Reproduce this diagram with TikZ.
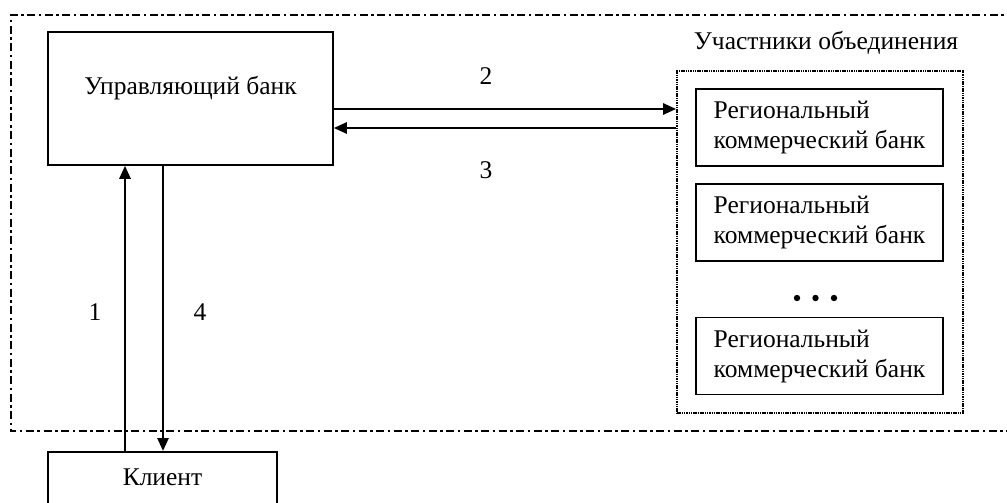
\documentclass[tikz,border=0pt]{standalone}
\usepackage{fontspec}
\setmainfont{Liberation Serif}
\usetikzlibrary{arrows.meta}
\tikzset{
  box/.style={draw, line width=1.6pt, inner sep=0pt},
  bank/.style={box, minimum width=247pt, minimum height=77pt, align=left,
    font=\fontsize{25.5}{30}\selectfont},
  txt/.style={inner sep=0pt, font=\fontsize{25.5}{30}\selectfont},
  arr/.style={line width=2.6pt, -{Triangle[length=13pt, width=11pt]}},
  frame/.style={line width=2.8pt, dash pattern=on 8pt off 3.5pt on 2.5pt off 3.5pt},
  group/.style={draw, line width=1.7pt, dash pattern=on 1.5pt off 0.8pt, inner sep=0pt}
}
\begin{document}
\begin{tikzpicture}[x=1pt, y=-1pt]
  \clip (0,0) rectangle (1007,503);
  \fill[white] (0,0) rectangle (1007,503);

  % outer boundary of the association
  \draw[frame] (1015,15) -- (11,15) -- (11,431) -- (1015,431);

  % managing bank
  \node[box, minimum width=285pt, minimum height=133pt] (mgr) at (190.5,98.5) {};
  \node[txt] (mgrtext) at (190.5,88) {Управляющий банк};

  % members of the association
  \node[txt] (memtitle) at (826,43) {Участники объединения};
  \node[group, minimum width=286pt, minimum height=342pt] (members) at (820,242) {};
  \node[bank] (bank1) at (819.5,127.5) {Региональный\\коммерческий банк};
  \node[bank] (bank2) at (819.5,222.5) {Региональный\\коммерческий банк};
  \node[bank] (bank3) at (819.5,356) {Региональный\\коммерческий банк};
  \fill (797,298) circle (3.2pt) (815.5,298) circle (3.2pt) (834,298) circle (3.2pt);

  % client
  \node[box, minimum width=229pt, minimum height=80pt, anchor=north] (client) at (162.5,451) {};
  \node[txt] (clienttext) at (162.5,477) {Клиент};

  % flows
  \draw[arr] ([yshift=-10.5pt]mgr.east) -- ([yshift=-10.5pt]mgr.east -| members.west);
  \draw[arr] ([yshift=-29.5pt]mgr.east -| members.west) -- ([yshift=-29.5pt]mgr.east);
  \draw[arr] ([xshift=-37.5pt]client.north) -- ([xshift=-37.5pt]client.north |- mgr.south);
  \draw[arr] ([xshift=-27.5pt]mgr.south) -- ([xshift=-27.5pt]mgr.south |- client.north);

  % flow numbers
  \node[txt] (n2) at (486,76) {2};
  \node[txt] (n3) at (486,170) {3};
  \node[txt] (n1) at (95,312) {1};
  \node[txt] (n4) at (200,312) {4};
\end{tikzpicture}
\end{document}
